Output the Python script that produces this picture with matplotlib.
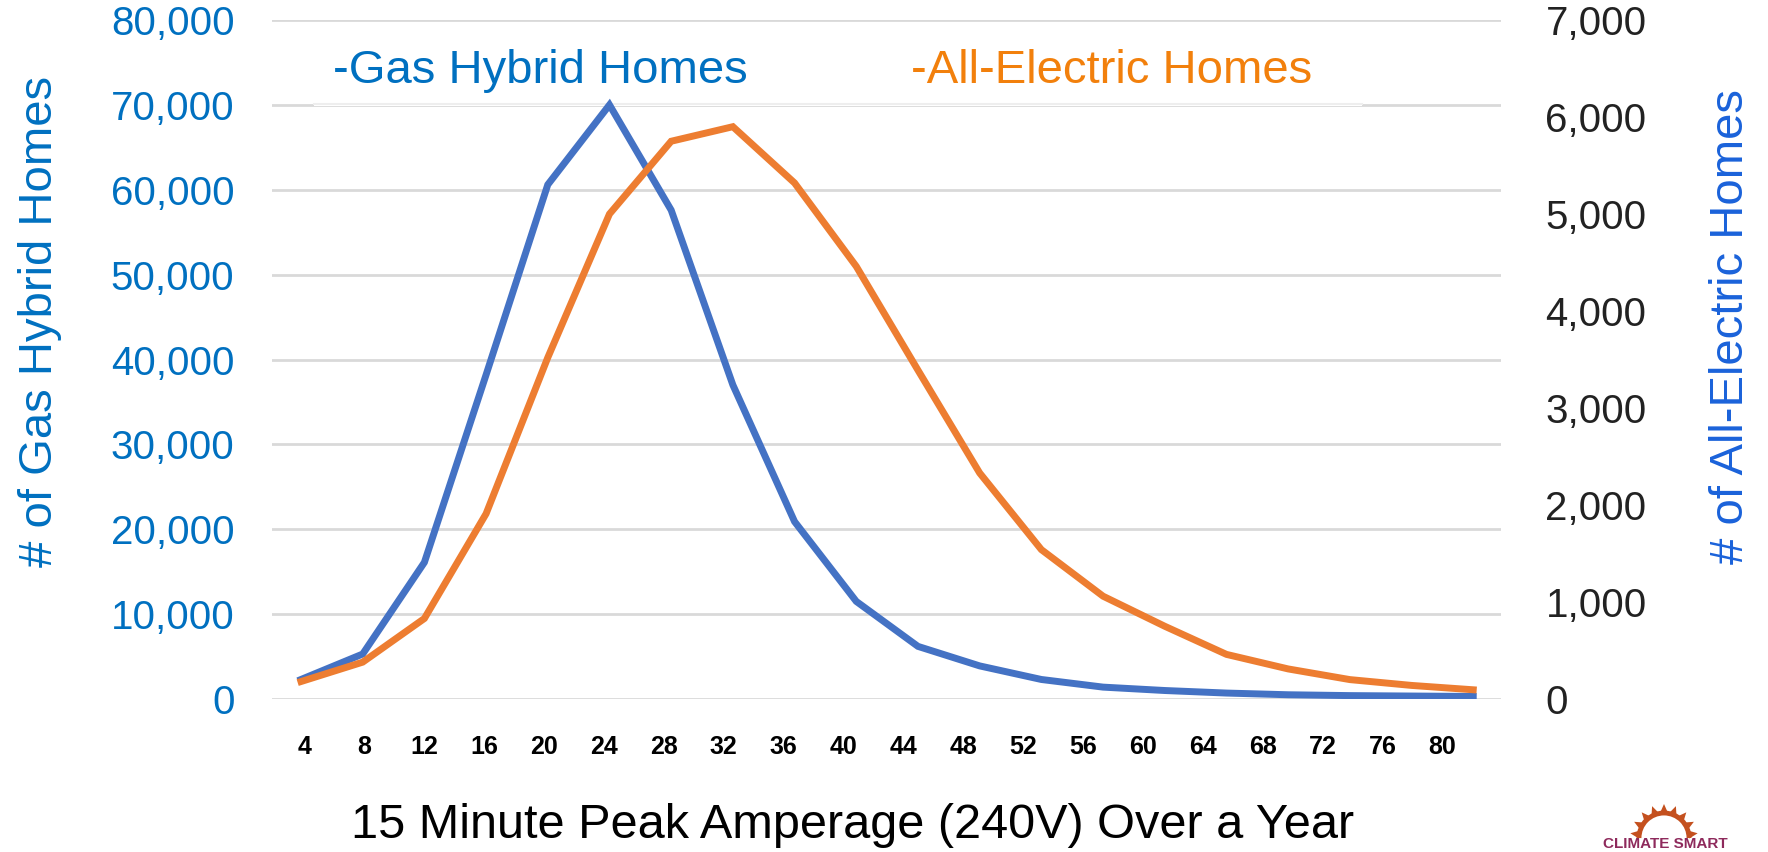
import matplotlib
matplotlib.use('Agg')
import matplotlib.pyplot as plt
from matplotlib.patches import Rectangle, Arc, Polygon
import numpy as np

# 15 minute peak amperage bins
amps = ['4', '8', '12', '16', '20', '24', '28', '32', '36', '40',
        '44', '48', '52', '56', '60', '64', '68', '72', '76', '80']
# number of homes per bin
gas_hybrid = [2300, 5300, 16100, 38200, 60600, 70000, 57600, 37000, 20900, 11500,
              6200, 3900, 2300, 1400, 1000, 700, 500, 400, 350, 300]
all_electric = [180, 380, 830, 1910, 3520, 5000, 5750, 5900, 5320, 4460,
                3390, 2330, 1540, 1060, 750, 460, 310, 200, 140, 95]

left_ticks = [0, 10000, 20000, 30000, 40000, 50000, 60000, 70000, 80000]
right_ticks = [0, 1000, 2000, 3000, 4000, 5000, 6000, 7000]

BLUE_TXT = '#0070C0'
BLUE_LINE = '#4472C4'
ORANGE_LINE = '#ED7D31'
ORANGE_TXT = '#F2800C'
RIGHT_LBL = '#1A62DA'

plt.rcParams['font.family'] = ['Liberation Sans', 'DejaVu Sans']

W, H = 1768, 852
fig = plt.figure(figsize=(W / 100, H / 100), dpi=100)
ax = fig.add_axes([272 / W, 1 - 699 / H, (1501 - 272) / W, (699 - 20) / H])
ax2 = ax.twinx()

x = np.arange(len(amps))

# gridlines only from the left axis
ax.set_ylim(0, 80000)
ax.set_yticks(left_ticks)
ax.set_yticklabels(['{:,}'.format(v) for v in left_ticks], fontsize=29, color=BLUE_TXT)
ax.grid(axis='y', color='#d9d9d9', linewidth=2)
ax.set_axisbelow(True)
ax.tick_params(axis='y', length=0, pad=27)

ax.plot(x, gas_hybrid, color=BLUE_LINE, linewidth=5, solid_joinstyle='miter', zorder=3)

ax2.set_ylim(0, 7000)
ax2.set_yticks(right_ticks)
ax2.set_yticklabels(['{:,}'.format(v) for v in right_ticks], fontsize=29, color='#222222')
ax2.tick_params(axis='y', length=0, pad=32)
ax2.plot(x, all_electric, color=ORANGE_LINE, linewidth=5, solid_joinstyle='miter', zorder=3)

ax.set_xlim(-0.47, 19.45)
ax.set_xticks(np.linspace(0.05, 18.5, len(amps)))
ax.set_xticklabels(amps, fontsize=18, fontweight='bold')
ax.tick_params(axis='x', length=0, pad=26)

for a in (ax, ax2):
    for s in a.spines.values():
        s.set_visible(False)

# white legend box over the top gridline area
ax.add_patch(Rectangle((0.034, 69900), 0.853, 9100, transform=ax.get_yaxis_transform(),
                       facecolor='white', edgecolor='none', zorder=2))
ax.plot([0.034, 0.887], [70050, 70050], transform=ax.get_yaxis_transform(),
        color='#eeeeee', linewidth=1.5, zorder=2)

fig.text(333 / W, 1 - 71 / H, '-Gas Hybrid Homes', fontsize=34, color=BLUE_TXT,
         ha='left', va='center')
fig.text(911 / W, 1 - 71 / H, '-All-Electric Homes', fontsize=34, color=ORANGE_TXT,
         ha='left', va='center')

# axis titles
fig.text(40 / W, 1 - 321 / H, '# of Gas Hybrid Homes', fontsize=34, color=BLUE_TXT,
         rotation=90, ha='center', va='center')
fig.text(1731 / W, 1 - 327 / H, '# of All-Electric Homes', fontsize=34, color=RIGHT_LBL,
         rotation=90, ha='center', va='center')
fig.text(853 / W, 1 - 826 / H, '15 Minute Peak Amperage (240V) Over a Year', fontsize=35,
         ha='center', va='center')

# logo in the corner
lax = fig.add_axes([1600 / W, 0, 168 / W, 62 / H])
lax.set_xlim(0, 168)
lax.set_ylim(0, 62)
lax.axis('off')
sun = '#C4501E'
lax.add_patch(Arc((64, 14), 50, 50, theta1=0, theta2=180, color=sun, linewidth=3.5))
for ang in np.linspace(8, 172, 9):
    t = np.radians(ang)
    c, s = np.cos(t), np.sin(t)
    p = np.array([64 + 25 * c, 14 + 25 * s])
    tip = np.array([64 + 34 * c, 14 + 34 * s])
    perp = np.array([-s, c]) * 4
    lax.add_patch(Polygon([p + perp, p - perp, tip], closed=True, color=sun, lw=0))
lax.text(65, 1, 'CLIMATE SMART', fontsize=11, fontweight='bold', color='#8E2A5C',
         ha='center', va='bottom')

fig.savefig('out.png', dpi=100)
